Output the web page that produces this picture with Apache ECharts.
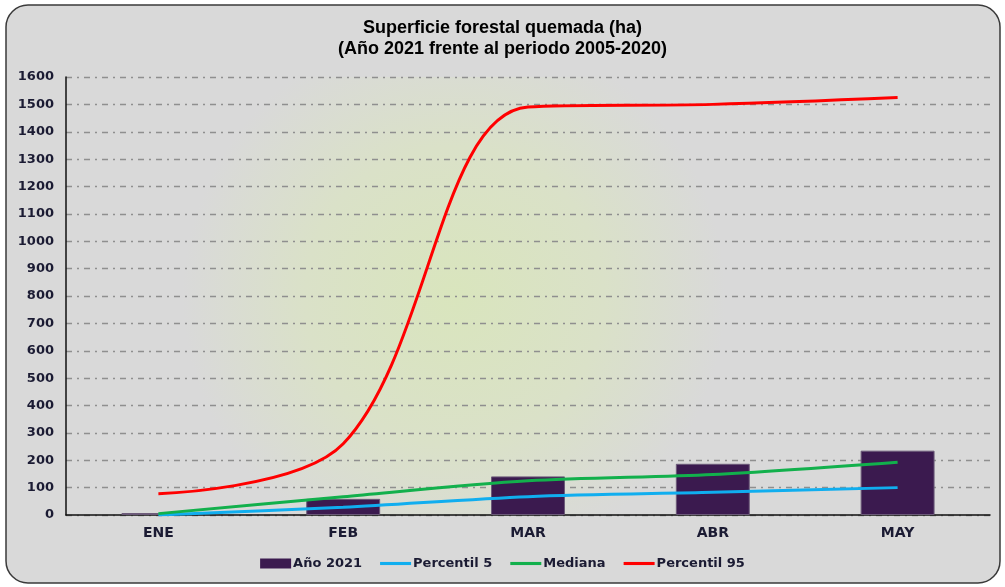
<!DOCTYPE html>
<html>
<head>
<meta charset="utf-8">
<style>
    html, body { margin: 0; padding: 0; background: #ffffff; }
    #main { width: 1005px; height: 587px; }
</style>
<script src="https://cdn.jsdelivr.net/npm/echarts@6/dist/echarts.min.js"></script>
</head>
<body>
<div id="main"></div>
<script>
    // datos
    var meses = ['ENE', 'FEB', 'MAR', 'ABR', 'MAY'];
    var anio2021 = [7, 59, 141, 187, 235];
    var percentil5 = [0, 28, 67, 83, 100];
    var mediana = [5, 67, 125, 148, 193];
    var percentil95 = [78, 260, 1490, 1500, 1525];

    var myChart = echarts.init(document.getElementById('main'));

    var fuente = 'DejaVu Sans';
    var colorTexto = '#1b1b33';
    // icono de linea fina para la leyenda (sin circulo)
    var iconoLinea = 'path://M0,0H30V3H0Z';

    var opt = {
        backgroundColor: 'transparent',
        animation: false,
        title: {
            text: 'Superficie forestal quemada (ha)\n(Año 2021 frente al periodo 2005-2020)',
            left: 'center',
            top: 13,
            textStyle: {
                fontFamily: 'Liberation Sans',
                fontSize: 18,
                fontWeight: 'bold',
                color: '#000',
                lineHeight: 21
            }
        },
        graphic: [{
            type: 'rect',
            z: -10,
            shape: {x: 6, y: 5, width: 994, height: 578, r: 22},
            style: {fill: '#d9d9d9', stroke: '#3a3a3a', lineWidth: 1.5}
        }],
        legend: {
            bottom: 12,
            left: 'center',
            itemWidth: 31,
            itemHeight: 10,
            itemGap: 18,
            textStyle: {
                fontFamily: fuente,
                fontSize: 13,
                fontWeight: 'bold',
                color: colorTexto,
                padding: [0, 0, 0, -3]
            },
            data: [
                {name: 'Año 2021', icon: 'rect', itemStyle: {borderWidth: 0}},
                {name: 'Percentil 5', icon: iconoLinea, itemStyle: {borderWidth: 0}},
                {name: 'Mediana', icon: iconoLinea, itemStyle: {borderWidth: 0}},
                {name: 'Percentil 95', icon: iconoLinea, itemStyle: {borderWidth: 0}}
            ]
        },
        grid: {
            left: 66,
            right: 15,
            top: 77,
            bottom: 72,
            show: true,
            borderWidth: 0,
            backgroundColor: new echarts.graphic.RadialGradient(0.42, 0.5, 0.62, [
                {offset: 0, color: '#d9e5bd'},
                {offset: 0.55, color: '#dae1c8'},
                {offset: 1, color: '#d9d9d9'}
            ])
        },
        xAxis: [{
            type: 'category',
            data: meses,
            boundaryGap: true,
            axisLine: {lineStyle: {color: '#111', width: 1.5}},
            axisTick: {show: false},
            axisLabel: {
                margin: 11,
                fontFamily: fuente,
                fontSize: 14,
                fontWeight: 'bold',
                color: colorTexto
            }
        }],
        yAxis: [{
            type: 'value',
            min: 0,
            max: 1600,
            interval: 100,
            axisLine: {show: true, lineStyle: {color: '#111', width: 1.5}},
            axisTick: {show: false},
            axisLabel: {
                margin: 12,
                fontFamily: fuente,
                fontSize: 13,
                fontWeight: 'bold',
                color: colorTexto,
                formatter: function (val) {
                    return String(val);
                }
            },
            splitLine: {
                lineStyle: {
                    type: [6, 5, 2, 5],
                    color: '#8f8f8f',
                    width: 1.3
                }
            }
        }],
        series: [
            {
                name: 'Año 2021',
                type: 'bar',
                barWidth: '40%',
                itemStyle: {color: '#3b1a4f', borderColor: '#6b5a78', borderWidth: 1},
                data: anio2021
            },
            {
                name: 'Percentil 5',
                type: 'line',
                smooth: 0.3,
                symbol: 'none',
                lineStyle: {width: 3, color: '#10aeef'},
                itemStyle: {color: '#10aeef'},
                data: percentil5
            },
            {
                name: 'Mediana',
                type: 'line',
                smooth: 0.3,
                symbol: 'none',
                lineStyle: {width: 3, color: '#12b04c'},
                itemStyle: {color: '#12b04c'},
                data: mediana
            },
            {
                name: 'Percentil 95',
                type: 'line',
                smooth: 0.35,
                symbol: 'none',
                lineStyle: {width: 3, color: '#ff0000'},
                itemStyle: {color: '#ff0000'},
                data: percentil95
            }
        ]
    };
    myChart.setOption(opt);
</script>
</body>
</html>
